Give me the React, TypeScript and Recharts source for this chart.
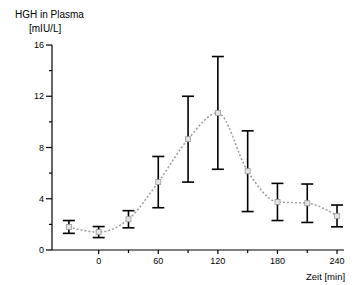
import { LineChart, Line, XAxis, YAxis, ErrorBar } from 'recharts';

document.body.style.margin = '0';

// HGH plasma level over time, mean with error range
const minutes = [-30, 0, 30, 60, 90, 120, 150, 180, 210, 240];
const hgh = [1.8, 1.4, 2.4, 5.3, 8.65, 10.7, 6.15, 3.75, 3.65, 2.66];
const hghErr = [0.5, 0.43, 0.67, 2.0, 3.35, 4.4, 3.15, 1.45, 1.5, 0.85];

const xTicks = [0, 30, 60, 90, 120, 150, 180, 210, 240];
const yTicks = [0, 2, 4, 6, 8, 10, 12, 14, 16];

const data = minutes.map((t, i) => ({ t, hgh: hgh[i], err: hghErr[i] }));

const font = 'Arial, "Liberation Sans", Helvetica, sans-serif';

function YTick(props: any) {
  const { x, y, payload } = props;
  const major = payload.value % 4 === 0;
  return (
    <g>
      <line x1={x - (major ? 6 : 3)} x2={x} y1={y} y2={y} stroke="#000" strokeWidth={1.2} />
      {major && (
        <text x={x - 8} y={y} dy="0.35em" textAnchor="end" fontSize={9} fontFamily={font} fill="#000">
          {payload.value}
        </text>
      )}
    </g>
  );
}

function XTick(props: any) {
  const { x, y, payload } = props;
  const major = payload.value % 60 === 0;
  return (
    <g>
      <line x1={x} x2={x} y1={y} y2={y + (major ? 4 : 3)} stroke="#000" strokeWidth={1.2} />
      {major && (
        <text x={x} y={y + 14} textAnchor="middle" fontSize={9} fontFamily={font} fill="#000">
          {payload.value}
        </text>
      )}
    </g>
  );
}

function SquareDot(props: any) {
  const { cx, cy } = props;
  if (cx == null || cy == null) return null;
  return <rect x={cx - 2.5} y={cy - 2.5} width={5} height={5} fill="#e4e4e4" stroke="#9a9a9a" strokeWidth={0.8} />;
}

export default function App() {
  return (
    <div style={{ position: 'relative', width: 355, height: 285, background: '#fff', fontFamily: font }}>
      <div style={{ position: 'absolute', left: 15, top: 9, fontSize: 10, color: '#000', whiteSpace: 'nowrap' }}>
        HGH in Plasma
      </div>
      <div style={{ position: 'absolute', left: 29, top: 23, fontSize: 10, color: '#000', whiteSpace: 'nowrap' }}>
        [mIU/L]
      </div>
      <div style={{ position: 'absolute', left: 306, top: 271, fontSize: 9.5, color: '#000', whiteSpace: 'nowrap' }}>
        Zeit [min]
      </div>
      <LineChart width={355} height={285} data={data} margin={{ top: 45, right: 11, bottom: 15, left: 12 }}>
        <XAxis
          type="number"
          dataKey="t"
          domain={[-47, 247]}
          ticks={xTicks}
          tick={<XTick />}
          tickLine={false}
          tickSize={0}
          tickMargin={0}
          axisLine={{ stroke: '#000', strokeWidth: 1.2 }}
          height={20}
          allowDataOverflow
        />
        <YAxis
          type="number"
          domain={[0, 16]}
          ticks={yTicks}
          tick={<YTick />}
          tickLine={false}
          tickSize={0}
          tickMargin={0}
          axisLine={{ stroke: '#000', strokeWidth: 1.2 }}
          width={40}
        />
        <Line
          type="monotone"
          dataKey="hgh"
          stroke="#9a9a9a"
          strokeWidth={1.5}
          strokeDasharray="2 2"
          dot={<SquareDot />}
          activeDot={false}
          isAnimationActive={false}
        >
          <ErrorBar dataKey="err" width={6} stroke="#000" strokeWidth={1.6} isAnimationActive={false} />
        </Line>
      </LineChart>
    </div>
  );
}
